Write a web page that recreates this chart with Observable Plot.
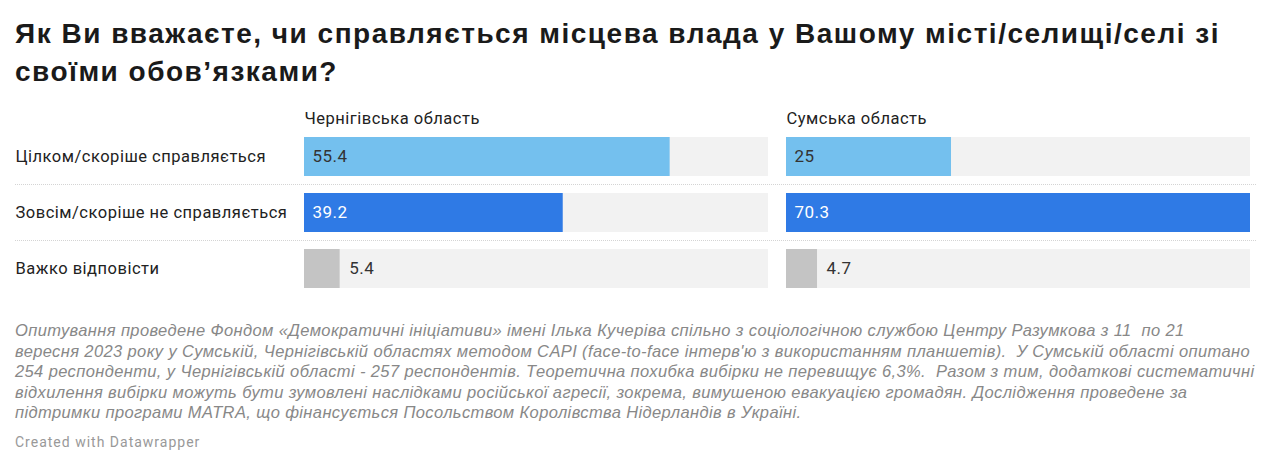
<!DOCTYPE html>
<html><head><meta charset="utf-8">
<script src="https://cdn.jsdelivr.net/npm/d3@7"></script>
<script src="https://cdn.jsdelivr.net/npm/@observablehq/plot@0.6"></script>
<style>
body{margin:0;background:#fff;width:1272px;height:465px;position:relative;overflow:hidden;}
#title{position:absolute;left:15px;top:15px;font-family:"Liberation Sans",Arial,sans-serif;font-weight:bold;font-size:28px;line-height:38px;color:#1a1a1a;letter-spacing:1.5px;white-space:nowrap;}
#chart{position:absolute;left:0;top:100px;}
#notes{position:absolute;left:15px;top:320px;font-family:"Liberation Sans",Arial,sans-serif;font-style:italic;font-size:16.5px;line-height:20.5px;letter-spacing:0.38px;color:#888;white-space:nowrap;}
#credit{position:absolute;left:15px;top:432px;font-family:Roboto,sans-serif;font-size:14px;line-height:20px;letter-spacing:1px;color:#999;}
</style></head>
<body>
<div id="title">Як Ви вважаєте, чи справляється місцева влада у Вашому місті/селищі/селі зі<br>своїми обов’язками?</div>
<div id="chart"></div>
<div id="notes">Опитування проведене Фондом «Демократичні ініціативи» імені Ілька Кучеріва спільно з соціологічною службою Центру Разумкова з 11&nbsp; по 21<br>вересня 2023 року у Сумській, Чернігівській областях методом CAPI (face-to-face інтерв'ю з використанням планшетів).&nbsp; У Сумській області опитано<br>254 респонденти, у Чернігівській області - 257 респондентів. Теоретична похибка вибірки не перевищує 6,3%.&nbsp; Разом з тим, додаткові систематичні<br>відхилення вибірки можуть бути зумовлені наслідками російської агресії, зокрема, вимушеною евакуацією громадян. Дослідження проведене за<br>підтримки програми MATRA, що фінансується Посольством Королівства Нідерландів в Україні.</div>
<div id="credit">Created with Datawrapper</div>
<script>
const regions = ["Чернігівська область", "Сумська область"];
const categories = ["Цілком/скоріше справляється", "Зовсім/скоріше не справляється", "Важко відповісти"];
const chernihiv = [55.4, 39.2, 5.4];
const sumy = [25, 70.3, 4.7];
const barColors = ["#74C0EE", "#2F7AE5", "#C4C4C4"];
const labelColors = ["#333333", "#ffffff", "#333333"];

const seriesByRegion = [chernihiv, sumy];
const data = [];
regions.forEach((r, ri) => {
  categories.forEach((c, ci) => {
    data.push({region: r, category: c, value: seriesByRegion[ri][ci], color: barColors[ci], labelColor: labelColors[ci]});
  });
});
const xMax = d3.max(data, d => d.value);
const W = 1272, mL = 304, mR = 22, gap = 18;
const panelW = (W - mL - mR - gap) / 2;
const step = panelW + gap;

const plot = Plot.plot({
  width: W,
  height: 200,
  marginLeft: mL,
  marginRight: mR,
  marginTop: 36,
  marginBottom: 10.6,
  style: {fontFamily: "Roboto, sans-serif", fontSize: "16.5px", color: "#333", background: "transparent", letterSpacing: "0.5px"},
  fx: {domain: regions, axis: null, paddingInner: gap / step, paddingOuter: 0},
  x: {domain: [0, xMax], axis: null},
  y: {domain: categories, paddingInner: 0.295, paddingOuter: 0},
  color: {type: "identity"},
  marks: [
    Plot.barX(data, {fx: "region", y: "category", x1: d => 0, x2: d => xMax, fill: "#f2f2f2"}),
    Plot.barX(data, {fx: "region", y: "category", x: "value", fill: d => d.color}),
    Plot.text(data.filter(d => d.value >= 10), {fx: "region", y: "category", x: d => 0, text: d => String(d.value), fill: d => d.labelColor, textAnchor: "start", dx: 8, fontSize: 17}),
    Plot.text(data.filter(d => d.value < 10), {fx: "region", y: "category", x: "value", text: d => String(d.value), fill: d => d.labelColor, textAnchor: "start", dx: 9, fontSize: 17}),
    Plot.text(regions, {fx: d => d, text: d => d, frameAnchor: "top-left", lineAnchor: "middle", dy: -18, textAnchor: "start", fill: "#222", fontSize: 16.5}),
    Plot.axisY({tickSize: 0, tickPadding: mL - 15, textAnchor: "start", label: null, fontSize: 16.5, fill: "#222"})
  ]
});
document.getElementById("chart").appendChild(plot);

// dotted separators between rows, positioned with Plot's own y scale
const ys = plot.scale("y");
const sepY = categories.slice(0, -1).map(c => ys.apply(c) + ys.bandwidth + (ys.step - ys.bandwidth) / 2);
d3.select(plot).append("g")
  .selectAll("line").data(sepY).join("line")
  .attr("x1", 15).attr("x2", W - 16)
  .attr("y1", d => d).attr("y2", d => d)
  .attr("stroke", "#d4d4d4").attr("stroke-width", 1).attr("stroke-dasharray", "1 1");
</script>
</body></html>
